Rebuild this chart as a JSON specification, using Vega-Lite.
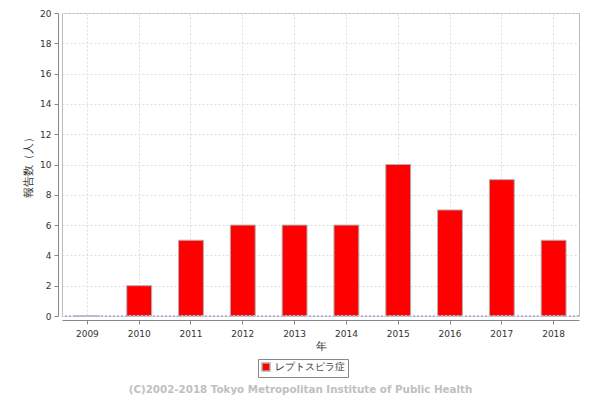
{
  "$schema": "https://vega.github.io/schema/vega-lite/v6.json",
  "width": 517,
  "height": 303,
  "autosize": {"type": "none"},
  "padding": {"left": 62, "top": 13, "right": 21, "bottom": 84},
  "background": "white",
  "config": {
    "view": {"stroke": "#bbbbbb", "strokeWidth": 1},
    "font": "DejaVu Sans"
  },
  "title": {
    "text": "(C)2002-2018 Tokyo Metropolitan Institute of Public Health",
    "orient": "bottom",
    "anchor": "middle",
    "offset": 7,
    "dx": -20,
    "fontSize": 10.3,
    "fontWeight": "bold",
    "color": "#c0c0c0",
    "font": "DejaVu Sans"
  },
  "data": {
    "values": [
      {"year": "2009", "disease": "レプトスピラ症", "count": 0},
      {"year": "2010", "disease": "レプトスピラ症", "count": 2},
      {"year": "2011", "disease": "レプトスピラ症", "count": 5},
      {"year": "2012", "disease": "レプトスピラ症", "count": 6},
      {"year": "2013", "disease": "レプトスピラ症", "count": 6},
      {"year": "2014", "disease": "レプトスピラ症", "count": 6},
      {"year": "2015", "disease": "レプトスピラ症", "count": 10},
      {"year": "2016", "disease": "レプトスピラ症", "count": 7},
      {"year": "2017", "disease": "レプトスピラ症", "count": 9},
      {"year": "2018", "disease": "レプトスピラ症", "count": 5}
    ]
  },
  "encoding": {
    "y": {
      "field": "count", "type": "quantitative", "title": "報告数（人）",
      "scale": {"domain": [0, 20]},
      "axis": {
        "values": [0, 2, 4, 6, 8, 10, 12, 14, 16, 18, 20], "tickCount": 30, "format": "d", "labelOverlap": false,
        "offset": 4, "domainColor": "#888888", "tickColor": "#888888",
        "tickSize": 4, "labelFontSize": 9, "labelColor": "#333333", "labelPadding": 3,
        "titleFontSize": 11, "titleFontWeight": "normal", "titleColor": "#333333", "titlePadding": 6,
        "grid": true, "gridColor": "#dddddd", "gridDash": [2, 2]
      }
    }
  },
  "layer": [
    {
      "mark": {"type": "bar", "stroke": "#b0b0b0", "strokeWidth": 1},
      "encoding": {
        "x": {
          "field": "year", "type": "ordinal", "title": "年",
          "scale": {"paddingInner": 0.52, "paddingOuter": 0.25},
          "axis": {
            "labelAngle": 0, "offset": 4, "domainColor": "#888888", "tickColor": "#888888",
            "tickSize": 4, "labelFontSize": 9, "labelColor": "#333333", "labelPadding": 5,
            "titleFontSize": 11, "titleFontWeight": "normal", "titleColor": "#333333", "titlePadding": 2,
            "grid": true, "gridColor": "#dddddd", "gridDash": [2, 2], "bandPosition": 0.5
          }
        },
        "color": {
          "field": "disease", "type": "nominal", "title": null,
          "scale": {"range": ["#ff0000"]},
          "legend": {
            "orient": "none", "legendX": 196, "legendY": 346, "direction": "horizontal",
            "symbolType": "square", "symbolSize": 64, "symbolStrokeColor": "#b0b0b0",
            "labelFontSize": 10, "labelColor": "#333333",
            "strokeColor": "#888888", "padding": 3
          }
        }
      }
    },
    {
      "mark": {"type": "rule", "color": "#b8b8e0", "strokeDash": [2, 2], "strokeWidth": 1},
      "encoding": {"y": {"datum": 0, "type": "quantitative"}}
    }
  ]
}
